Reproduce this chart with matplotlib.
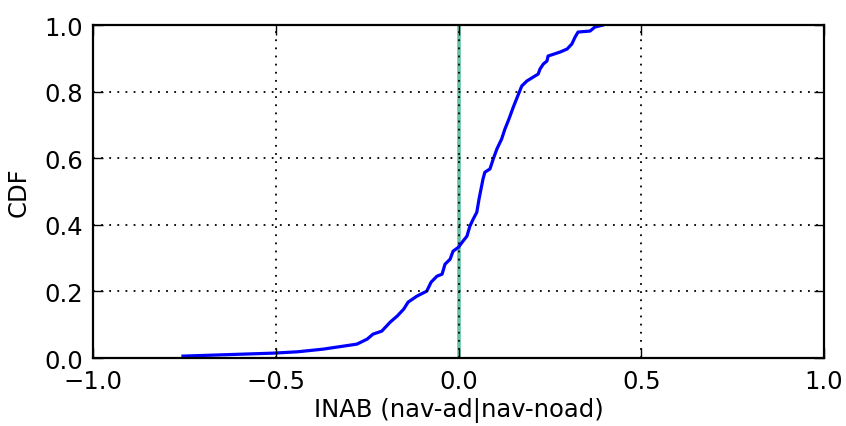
import matplotlib
matplotlib.use("Agg")
import matplotlib.pyplot as plt

# CDF points
cdf_x = [-0.754, -0.505, -0.44, -0.37, -0.278, -0.25, -0.234, -0.21, -0.187, -0.168,
         -0.15, -0.138, -0.114, -0.087, -0.075, -0.059, -0.045, -0.037, -0.023, -0.015,
         0.0, 0.012, 0.023, 0.031, 0.04, 0.05, 0.056, 0.067, 0.072, 0.086, 0.095, 0.105,
         0.118, 0.127, 0.138, 0.15, 0.162, 0.173, 0.187, 0.218, 0.223, 0.232, 0.242,
         0.245, 0.278, 0.297, 0.31, 0.319, 0.327, 0.36, 0.373, 0.395]
cdf_y = [0.006, 0.015, 0.019, 0.027, 0.042, 0.057, 0.072, 0.081, 0.108, 0.126,
         0.147, 0.168, 0.186, 0.201, 0.228, 0.246, 0.252, 0.282, 0.297, 0.321,
         0.333, 0.351, 0.366, 0.396, 0.417, 0.438, 0.477, 0.538, 0.558, 0.568, 0.598, 0.628,
         0.658, 0.688, 0.718, 0.754, 0.787, 0.817, 0.832, 0.853, 0.868, 0.883, 0.892,
         0.907, 0.919, 0.928, 0.943, 0.964, 0.979, 0.982, 0.994, 1.0]

xticks = [-1.0, -0.5, 0.0, 0.5, 1.0]
yticks = [0.0, 0.2, 0.4, 0.6, 0.8, 1.0]
ref_x = 0.0

plt.rcParams['font.family'] = ['DejaVu Sans']
fs = 17.5

def fmt(v):
    return ('%.1f' % v).replace('-', '\u2212')

fig = plt.figure(figsize=(8.46, 4.27), dpi=100)
ax = fig.add_axes([0.110, 0.159, 0.864, 0.780])

ax.axvline(ref_x, color='#66c2a5', lw=2.6, zorder=1)
ax.plot(cdf_x, cdf_y, color='#0000ff', lw=2.3, zorder=2)

ax.set_xlim(-1, 1)
ax.set_ylim(0, 1)
ax.set_xticks(xticks)
ax.set_yticks(yticks)
ax.set_xticklabels([fmt(v) for v in xticks], fontsize=fs)
ax.set_yticklabels([fmt(v) for v in yticks], fontsize=fs)
ax.tick_params(direction='in', top=True, right=True, length=7, width=1, pad=6)
ax.tick_params(axis='x', pad=8)
ax.tick_params(axis='y', pad=7)

ax.grid(True, color='black', linestyle=(0, (1, 3.5)), lw=1.3, zorder=3)
ax.set_axisbelow(False)
for s in ax.spines.values():
    s.set_linewidth(1.6)

ax.set_xlabel('INAB (nav-ad|nav-noad)', fontsize=fs, labelpad=3)
ax.set_ylabel('CDF', fontsize=fs, labelpad=10)

fig.savefig('out.png', dpi=100, facecolor='white')
